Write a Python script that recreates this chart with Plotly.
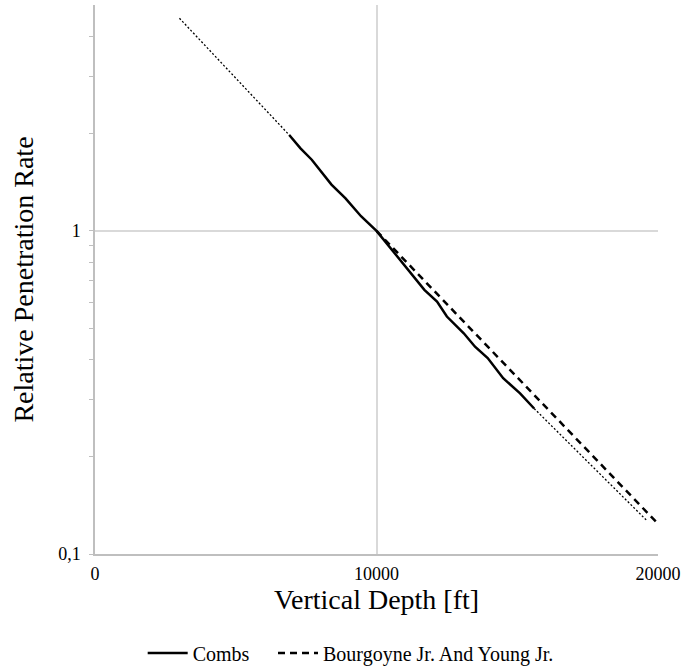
import plotly.graph_objects as go

# Data
combs_depth = [6900, 7300, 7700, 8400, 8900, 9450, 10000, 10350, 10900, 11700, 12150,
               12500, 13100, 13500, 13950, 14500, 15100, 15600]
combs_rate = [1.98, 1.80, 1.66, 1.39, 1.26, 1.11, 1.00, 0.916, 0.803, 0.657, 0.604,
              0.543, 0.482, 0.438, 0.404, 0.350, 0.314, 0.282]

bourgoyne_depth = [10000, 11000, 12000, 13000, 14000, 15000, 16000, 17000, 18000, 19000, 20000]
bourgoyne_rate = [1.0, 0.812, 0.659, 0.534, 0.434, 0.352, 0.286, 0.232, 0.188, 0.153, 0.124]

ext_upper_depth = [3000, 6900]
ext_upper_rate = [4.55, 1.98]
ext_lower_depth = [15600, 19600]
ext_lower_rate = [0.282, 0.127]

x_ticks = [0, 10000, 20000]
x_ticktext = ["0", "10000", "20000"]
y_ticks = [0.1, 1]
y_ticktext = ["0,1", "1"]
y_minor = [0.2, 0.3, 0.4, 0.5, 0.6, 0.7, 0.8, 0.9, 2, 3, 4]

FONT = "Liberation Serif, Times New Roman, serif"

fig = go.Figure()
fig.add_trace(go.Scatter(x=ext_upper_depth, y=ext_upper_rate, mode="lines",
                         line=dict(color="black", width=1.3, dash="2px,2px"),
                         showlegend=False, hoverinfo="skip"))
fig.add_trace(go.Scatter(x=ext_lower_depth, y=ext_lower_rate, mode="lines",
                         line=dict(color="black", width=1.3, dash="2px,2px"),
                         showlegend=False, hoverinfo="skip"))
fig.add_trace(go.Scatter(x=combs_depth, y=combs_rate, mode="lines", name="Combs",
                         line=dict(color="black", width=2.5), legend="legend"))
fig.add_trace(go.Scatter(x=bourgoyne_depth, y=bourgoyne_rate, mode="lines",
                         name="Bourgoyne Jr. And Young Jr.",
                         line=dict(color="black", width=2.5, dash="7px,5px"), legend="legend2"))

leg_common = dict(orientation="h", xref="container", yref="container",
                  xanchor="left", y=0.021, yanchor="middle",
                  font=dict(size=20, family=FONT), itemwidth=40,
                  bgcolor="rgba(0,0,0,0)")

fig.update_layout(
    width=686, height=667,
    margin=dict(l=95, r=24, t=5, b=113),
    paper_bgcolor="white", plot_bgcolor="white",
    font=dict(family=FONT, color="black", size=18),
    showlegend=True,
    legend=dict(x=0.208, **leg_common),
    legend2=dict(x=0.398, **leg_common),
    xaxis=dict(
        range=[0, 20000], tickvals=x_ticks, ticktext=x_ticktext,
        showgrid=True, gridcolor="#d9d9d9", gridwidth=1.5,
        showline=True, linecolor="#bfbfbf", linewidth=1.5,
        ticks="", zeroline=False, ticklabelstandoff=3,
        tickfont=dict(size=18, family=FONT),
        title=dict(text="Vertical Depth [ft]", font=dict(size=28, family=FONT), standoff=6),
    ),
    yaxis=dict(
        type="log", range=[-1, 0.69897], tickvals=y_ticks, ticktext=y_ticktext,
        showgrid=True, gridcolor="#d9d9d9", gridwidth=1.5,
        showline=True, linecolor="#bfbfbf", linewidth=1.5,
        ticks="outside", ticklen=4, tickcolor="#bfbfbf", tickwidth=1.2,
        minor=dict(tickvals=y_minor, ticks="outside", ticklen=4,
                   tickcolor="#bfbfbf", tickwidth=1.2, showgrid=False),
        zeroline=False, ticklabelstandoff=5,
        tickfont=dict(size=18, family=FONT),
        title=dict(text="Relative Penetration Rate", font=dict(size=28, family=FONT), standoff=16),
    ),
)

fig.write_html("out.html")
